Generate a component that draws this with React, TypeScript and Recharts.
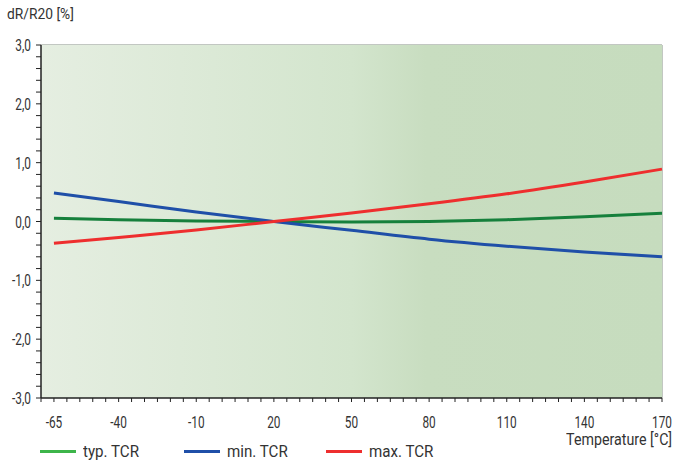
import React from 'react';
import { LineChart, Line, XAxis, YAxis, CartesianGrid, ReferenceArea } from 'recharts';

const temperatures = [-65, -40, -10, 20, 50, 80, 110, 140, 170];
const typTcr = [0.055, 0.03, 0.01, 0, -0.01, 0.0, 0.03, 0.08, 0.14];
const minTcr = [0.485, 0.34, 0.16, 0, -0.15, -0.3, -0.42, -0.52, -0.6];
const maxTcr = [-0.37, -0.27, -0.145, 0, 0.145, 0.3, 0.47, 0.67, 0.89];

const xLabels = ['-65', '-40', '-10', '20', '50', '80', '110', '140', '170'];
const yLabels = ['-3,0', '-2,0', '-1,0', '0,0', '1,0', '2,0', '3,0'];
const yMajor = [-3, -2, -1, 0, 1, 2, 3];

const data = temperatures.map((t, i) => ({ t, typ: typTcr[i], min: minTcr[i], max: maxTcr[i] }));

// minor tick positions (unlabelled)
const xTicks: number[] = [];
for (let v = -70; v <= 170; v += 5) xTicks.push(v);
const yTicks: number[] = [];
for (let i = -15; i <= 15; i++) yTicks.push(Math.round(i * 2) / 10);

const FONT = 'Roboto, "DejaVu Sans Condensed", sans-serif';
const TEXT = '#333';
const SQUEEZE = 0.74;

const xFmt = (v: number) => {
  const i = temperatures.indexOf(v);
  return i >= 0 ? xLabels[i] : '';
};
const yFmt = (v: number) => {
  const i = yMajor.findIndex(m => Math.abs(m - v) < 1e-6);
  return i >= 0 ? yLabels[i] : '';
};

const XTick = (props: any) => {
  const { x, y, payload } = props;
  const label = xFmt(payload.value);
  if (!label) return null;
  return (
    <g transform={`translate(${x},${y + 24})`}>
      <text transform={`scale(${SQUEEZE},1)`} textAnchor="middle" fill={TEXT} fontSize={16} fontFamily={FONT}>
        {label}
      </text>
    </g>
  );
};

const YTick = (props: any) => {
  const { x, y, payload } = props;
  const label = yFmt(payload.value);
  if (!label) return null;
  return (
    <g transform={`translate(${x - 3},${y + 6})`}>
      <text transform={`scale(${SQUEEZE},1)`} textAnchor="end" fill={TEXT} fontSize={16} fontFamily={FONT}>
        {label}
      </text>
    </g>
  );
};

const squeezed: React.CSSProperties = {
  display: 'inline-block',
  transform: 'scaleX(0.89)',
  whiteSpace: 'nowrap',
};

const legendItems = [
  { name: 'typ. TCR', color: '#3db54a', left: 40 },
  { name: 'min. TCR', color: '#1f4fa8', left: 184 },
  { name: 'max. TCR', color: '#ee2e2e', left: 326 },
];

export default function App() {
  return (
    <div style={{ position: 'absolute', left: 0, top: 0, width: 673, height: 464, background: '#fff', fontFamily: FONT }}>
      <div style={{ position: 'absolute', left: 7, top: 5, fontSize: 15.5, color: TEXT }}>
        <span style={{ ...squeezed, transformOrigin: 'left center' }}>dR/R20 [%]</span>
      </div>
      <LineChart width={673} height={464} data={data} margin={{ top: 45, right: 11, left: 0, bottom: 0 }}>
        <defs>
          <linearGradient id="bg" x1="0" y1="0" x2="1" y2="0">
            <stop offset="0%" stopColor="#e5eee1" />
            <stop offset="50%" stopColor="#d3e5cd" />
            <stop offset="62%" stopColor="#c8ddc0" />
            <stop offset="100%" stopColor="#c6dcbe" />
          </linearGradient>
        </defs>
        <ReferenceArea x1={-70} x2={170} y1={-3} y2={3} fill="url(#bg)" fillOpacity={1} stroke="none" />
        <CartesianGrid
          stroke="#858f85"
          strokeWidth={1}
          verticalValues={[-40, -10, 20, 50, 80, 110, 140, 170]}
          horizontalValues={[-2, -1, 0, 1, 2, 3]}
        />
        <XAxis
          dataKey="t"
          type="number"
          domain={[-70, 170]}
          ticks={xTicks}
          interval={0}
          height={66}
          tickSize={4}
          axisLine={{ stroke: '#222', strokeWidth: 1.5 }}
          tickLine={{ stroke: '#222' }}
          tick={<XTick />}
        />
        <YAxis
          type="number"
          domain={[-3, 3]}
          ticks={yTicks}
          interval={0}
          width={41}
          tickSize={5}
          axisLine={{ stroke: '#222', strokeWidth: 1.5 }}
          tickLine={{ stroke: '#222' }}
          tick={<YTick />}
        />
        <Line type="monotone" dataKey="typ" stroke="#16803c" strokeWidth={3} dot={false} isAnimationActive={false} />
        <Line type="monotone" dataKey="min" stroke="#1f4fa8" strokeWidth={3} dot={false} isAnimationActive={false} />
        <Line type="monotone" dataKey="max" stroke="#ee2e2e" strokeWidth={3} dot={false} isAnimationActive={false} />
      </LineChart>
      <div style={{ position: 'absolute', right: 1, top: 431, fontSize: 16, lineHeight: '18px', color: TEXT }}>
        <span style={{ ...squeezed, transformOrigin: 'right center' }}>Temperature [°C]</span>
      </div>
      {legendItems.map(item => (
        <div key={item.name} style={{ position: 'absolute', left: item.left, top: 441, display: 'flex', alignItems: 'center', fontSize: 17, color: TEXT }}>
          <span style={{ display: 'inline-block', width: 36, height: 3, background: item.color, marginRight: 7 }} />
          <span style={{ ...squeezed, transformOrigin: 'left center' }}>{item.name}</span>
        </div>
      ))}
    </div>
  );
}
